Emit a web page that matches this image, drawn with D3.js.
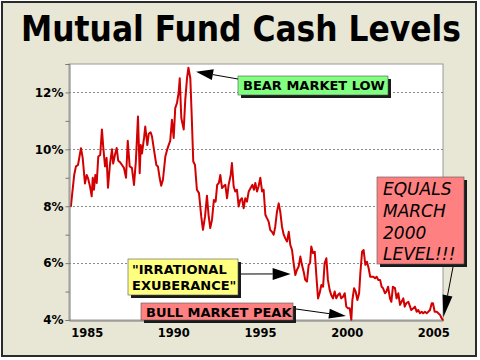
<!DOCTYPE html>
<html><head><meta charset="utf-8">
<script src="https://cdn.jsdelivr.net/npm/d3@7"></script>
<style>body{margin:0;background:#fff}svg{display:block}</style>
</head><body>
<svg id="c" width="480" height="360"></svg>
<script>
// ---- data ----
const years = [
 1984.09,1984.28,1984.38,1984.5,1984.67,1984.77,1984.9,
 1985.0,1985.07,1985.19,1985.29,1985.35,1985.42,1985.5,1985.58,1985.67,1985.78,1985.88,1985.96,
 1986.06,1986.15,1986.23,1986.34,1986.46,1986.53,1986.63,1986.73,1986.82,1986.92,
 1987.04,1987.15,1987.27,1987.37,1987.48,1987.61,1987.73,1987.84,1987.96,
 1988.06,1988.12,1988.19,1988.31,1988.38,1988.5,1988.58,1988.69,1988.77,1988.88,
 1989.02,1989.11,1989.21,1989.3,1989.4,1989.54,1989.65,1989.73,1989.82,1989.92,
 1990.02,1990.11,1990.21,1990.31,1990.37,1990.46,1990.6,1990.69,1990.79,1990.87,1990.98,
 1991.06,1991.15,1991.25,1991.36,1991.48,1991.61,1991.71,1991.83,1991.94,
 1992.04,1992.13,1992.23,1992.34,1992.44,1992.53,1992.63,1992.71,1992.81,1992.9,
 1993.0,1993.1,1993.19,1993.31,1993.38,1993.48,1993.57,1993.67,1993.77,1993.86,1993.96,
 1994.06,1994.15,1994.25,1994.35,1994.46,1994.56,1994.65,1994.73,1994.83,1994.92,
 1995.02,1995.12,1995.21,1995.31,1995.4,1995.5,1995.59,1995.69,1995.79,1995.88,1995.98,
 1996.08,1996.17,1996.27,1996.37,1996.46,1996.56,1996.66,1996.75,1996.85,1996.94,
 1997.04,1997.13,1997.23,1997.33,1997.42,1997.52,1997.61,1997.71,1997.81,1997.89,1997.96,
 1998.06,1998.16,1998.25,1998.35,1998.44,1998.54,1998.64,1998.73,1998.83,1998.92,
 1999.02,1999.11,1999.21,1999.31,1999.4,1999.5,1999.6,1999.69,1999.79,1999.89,1999.98,
 2000.08,2000.18,2000.27,2000.33,2000.43,2000.52,2000.62,2000.72,2000.79,2000.89,2000.98,
 2001.08,2001.17,2001.27,2001.36,2001.46,2001.54,2001.64,2001.73,2001.83,2001.93,
 2002.02,2002.1,2002.21,2002.29,2002.39,2002.5,2002.58,2002.67,2002.79,2002.88,2002.98,
 2003.08,2003.17,2003.27,2003.35,2003.44,2003.56,2003.66,2003.73,2003.85,2003.94,
 2004.04,2004.13,2004.23,2004.33,2004.42,2004.52,2004.62,2004.71,2004.81,2004.91,2004.98,
 2005.08,2005.2,2005.29,2005.39,2005.48,2005.55
];
const cashPct = [
 8.0,9.1,9.4,9.45,10.04,9.7,8.8,
 9.1,9.0,8.7,8.35,9.0,8.58,9.1,8.82,9.75,9.8,10.7,10.05,
 9.4,9.7,8.65,9.45,10.0,9.5,9.8,10.05,9.6,9.55,
 9.45,9.35,9.0,10.3,9.4,9.35,8.75,9.6,11.15,
 9.16,10.15,9.85,10.4,10.8,10.15,10.55,10.6,10.45,10.0,
 9.45,9.4,9.0,8.72,8.93,9.75,10.0,10.15,10.3,11.04,
 10.4,11.45,11.63,12.0,12.5,11.1,10.7,11.75,12.5,12.87,12.5,
 11.2,9.57,9.45,8.58,8.46,7.64,7.17,7.64,8.37,
 7.64,7.23,7.52,8.22,8.16,8.75,8.82,9.1,8.64,8.7,
 8.75,8.28,8.75,9.1,9.52,8.7,8.52,8.58,7.99,8.22,8.28,
 7.93,8.28,8.16,8.52,8.64,8.75,8.58,8.82,8.52,8.7,
 9.0,8.52,8.58,7.7,7.58,7.46,7.17,7.1,7.0,7.28,7.81,
 8.1,7.81,7.28,7.0,6.87,6.76,7.1,6.64,6.46,6.0,
 5.58,5.76,5.88,6.23,5.94,5.7,5.41,5.35,5.94,6.0,6.58,
 6.35,6.4,5.58,4.76,4.94,5.23,5.17,6.0,6.17,5.41,
 5.06,4.88,4.76,5.0,4.76,4.88,4.94,4.76,4.82,4.94,4.47,
 4.41,4.41,4.0,4.7,5.12,5.0,4.7,4.94,5.64,6.4,6.46,
 5.94,6.05,5.82,5.52,5.52,5.52,5.47,5.52,5.41,5.41,
 5.17,5.12,4.94,5.0,5.17,4.76,4.64,5.17,5.12,4.76,4.94,
 4.53,4.64,4.76,4.47,4.59,4.64,4.47,4.35,4.41,4.47,
 4.29,4.35,4.24,4.29,4.24,4.29,4.24,4.29,4.35,4.59,4.59,
 4.29,4.29,4.24,4.18,4.06,4.0
];
const xTickYears = [1985, 1990, 1995, 2000, 2005];
const yTicks = [4,5,6,7,8,9,10,11,12,13];
const yLabelTicks = [4,6,8,10,12];
const titleText = "Mutual Fund Cash Levels";

// ---- layout ----
const svg = d3.select("#c");
const FONT = "'DejaVu Sans', Verdana, sans-serif";
const TITLE_FONT = "'DejaVu Sans Condensed', 'DejaVu Sans', sans-serif";
const plot = {left: 69, top: 64, right: 443, bottom: 320};

// frame
svg.append("rect").attr("x",2).attr("y",2).attr("width",474).attr("height",354)
  .attr("fill","#e8e6d4").attr("stroke","#2b2b2b").attr("stroke-width",2);

const title = svg.append("text").attr("x",241).attr("y",41).attr("text-anchor","middle")
  .attr("font-family",TITLE_FONT).attr("font-weight","bold").attr("font-size",35)
  .style("font-stretch","condensed")
  .attr("fill","#000").text(titleText);
// shrink the font (not the glyphs) so the title fits the same width as the reference
const tw = title.node().getComputedTextLength();
if (tw > 440) title.attr("font-size", 35 * 440 / tw);

const x = d3.scaleLinear().domain([1983.98, 2005.56]).range([plot.left, plot.right]);
const y = d3.scaleLinear().domain([4, 13]).range([plot.bottom, plot.top]);

svg.append("rect").attr("x",plot.left).attr("y",plot.top)
  .attr("width",plot.right-plot.left).attr("height",plot.bottom-plot.top)
  .attr("fill","#fff").attr("stroke","#9a9a9a").attr("stroke-width",1);

// gridlines
svg.append("g").selectAll("line").data(yLabelTicks.filter(d=>d>4)).join("line")
  .attr("x1",plot.left).attr("x2",plot.right)
  .attr("y1",d=>Math.round(y(d))+0.5).attr("y2",d=>Math.round(y(d))+0.5)
  .attr("stroke","#8a8a8a").attr("stroke-width",1).attr("stroke-dasharray","2,2");

// data line
const pts = d3.zip(years, cashPct);
svg.append("path").datum(pts)
  .attr("fill","none").attr("stroke","#d20000").attr("stroke-width",2)
  .attr("stroke-linejoin","round").attr("stroke-linecap","round")
  .attr("d", d3.line().x(d=>x(d[0])).y(d=>y(d[1])));

// y axis
const yAxis = d3.axisLeft(y).tickValues(yTicks).tickSize(4).tickPadding(2)
  .tickFormat(d => yLabelTicks.includes(d) ? d + "%" : "");
const gy = svg.append("g").attr("transform",`translate(${plot.left+0.5},0)`).call(yAxis);
gy.select(".domain").attr("stroke","#7a7a7a");
gy.selectAll(".tick line").attr("stroke","#7a7a7a");
gy.selectAll("text").attr("font-family",FONT).attr("font-weight","bold")
  .attr("font-size",12).attr("fill","#000");

// x axis
const xAxis = d3.axisBottom(x).tickValues(xTickYears).tickSize(0).tickPadding(8)
  .tickFormat(d3.format("d"));
const gx = svg.append("g").attr("transform",`translate(0,${plot.bottom+0.5})`).call(xAxis);
gx.select(".domain").attr("stroke","#7a7a7a");
gx.selectAll("text").attr("font-family",FONT).attr("font-weight","bold")
  .attr("font-size",11.5).attr("fill","#000");

// ---- annotations ----
function arrow(x1,y1,x2,y2,len,hw){
  const dx = x2-x1, dy = y2-y1, L = Math.hypot(dx,dy), ux = dx/L, uy = dy/L;
  const bx = x2-ux*len, by = y2-uy*len;
  svg.append("line").attr("x1",x1).attr("y1",y1).attr("x2",bx).attr("y2",by)
    .attr("stroke","#000").attr("stroke-width",1);
  svg.append("polygon").attr("fill","#000")
    .attr("points",[[x2,y2],[bx-uy*hw,by+ux*hw],[bx+uy*hw,by-ux*hw]].map(p=>p.join(",")).join(" "));
}
function box(bx,by,w,h,fill){
  svg.append("rect").attr("x",bx+3).attr("y",by+3).attr("width",w).attr("height",h).attr("fill","#1a1a1a");
  svg.append("rect").attr("x",bx).attr("y",by).attr("width",w).attr("height",h)
    .attr("fill",fill).attr("stroke","#555").attr("stroke-width",0.6);
}
function label(lines, tx, ty, lh, opts){
  const t = svg.append("text").attr("font-family",FONT).attr("fill","#000")
    .attr("font-size",opts.size).attr("font-weight",opts.weight||"bold")
    .attr("font-style",opts.style||"normal");
  lines.forEach((s,i)=> t.append("tspan").attr("x",tx).attr("y",ty+i*lh).text(s));
}

// Bear market low
box(238,76,150,19,"#80ff80");
label(["BEAR MARKET LOW"], 243, 90, 0, {size:13});
arrow(238,79, x(1991.31), y(12.73), 17, 5.5);

// Irrational exuberance
box(128,259,110,36,"#ffff80");
label(["\"IRRATIONAL","EXUBERANCE\""], 132, 273.5, 16.5, {size:13});
arrow(241,274, x(1996.77), y(5.62), 18, 6);

// Bull market peak
box(141,303,152,17,"#ff8080");
label(["BULL MARKET PEAK"], 146, 317, 0, {size:13});
arrow(296,309, x(1999.96), y(4.14), 17, 5);

// Equals March 2000 level
box(377,177,87,87,"#ff8080");
label(["EQUALS","MARCH","2000","LEVEL!!!"], 383, 195, 21.8, {size:17, weight:"normal", style:"italic"});
arrow(453,267, x(2005.58), y(4.1), 22, 5);
</script>
</body></html>
